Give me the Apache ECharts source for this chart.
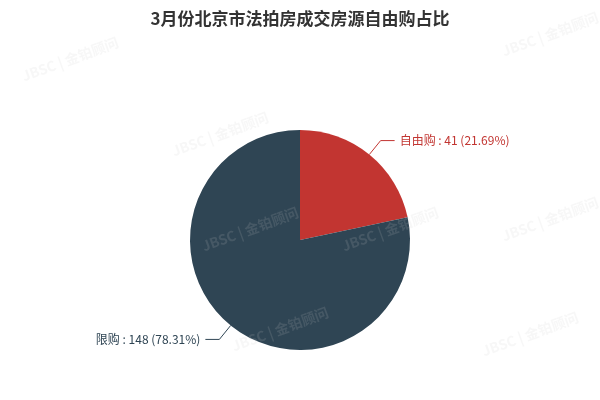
<!DOCTYPE html>
<html><head><meta charset="utf-8">
<script src="https://cdn.jsdelivr.net/npm/echarts@6/dist/echarts.min.js"></script>
<style>html,body{margin:0;padding:0;background:#fff}#c{width:600px;height:400px}</style>
</head><body><div id="c"></div>
<script>
const titleText = '3月份北京市法拍房成交房源自由购占比';
const categories = ['自由购', '限购'];
const values = [41, 148];
const colors = ['#c23531', '#2f4554'];
const wmPositions = [[20,70],[170,145],[340,240],[500,45],[500,230],[230,340],[480,345],[200,240]];

const chart = echarts.init(document.getElementById('c'));
chart.setOption({
  animation: false,
  title: {text: titleText, left: 'center', top: 5,
    textStyle: {fontSize: 17, fontWeight: 'bold', color: '#333', fontFamily: 'Noto Sans CJK SC'}},
  color: colors,
  graphic: wmPositions.map(p => ({
    type: 'text', x: p[0], y: p[1], rotation: 0.35, z: 100, silent: true,
    style: {text: 'JBSC | 金铂顾问', fill: 'rgba(200,200,200,0.15)', font: 'bold 14px "Noto Sans CJK SC"'}
  })),
  series: [{
    type: 'pie', radius: '55%', center: ['50%', '60%'],
    startAngle: 90,
    data: categories.map((c, i) => ({name: c, value: values[i],
      label: {color: colors[i]}, labelLine: {lineStyle: {color: colors[i]}}})),
    label: {formatter: '{b} : {c} ({d}%)', fontSize: 12, fontFamily: 'Noto Sans CJK SC'},
    labelLine: {length: 18, length2: 14},
    itemStyle: {borderColor: '#fff', borderWidth: 0}
  }]
});
</script></body></html>
